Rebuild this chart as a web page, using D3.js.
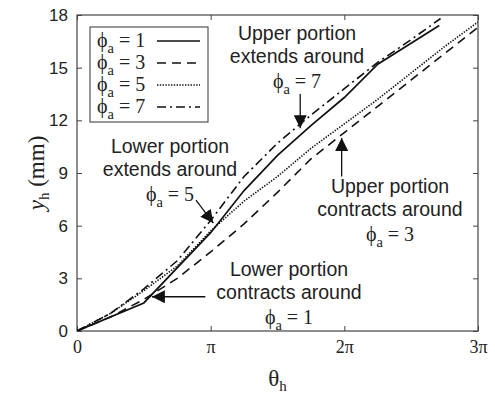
<!DOCTYPE html>
<html>
<head>
<meta charset="utf-8">
<script src="https://cdn.jsdelivr.net/npm/d3@7"></script>
<style>
  html, body { margin: 0; padding: 0; background: #fff; }
  svg { display: block; }
</style>
</head>
<body>
<svg id="chart" width="495" height="396"></svg>
<script>
// Winding height y_h against winding angle θ_h (in multiples of π) for four ϕ_a settings
const phiValues = [1, 3, 5, 7];

const theta1 = [0, 0.5, 1.0, 1.25, 1.5, 1.75, 2.0, 2.25, 2.71];
const yh1    = [0, 1.6, 5.6, 8.0, 10.0, 11.7, 13.3, 15.2, 17.4];

const theta3 = [0, 0.25, 0.5, 0.75, 1.0, 1.25, 1.5, 1.75, 2.0, 2.25, 2.5, 2.75, 3.0];
const yh3    = [0, 0.8, 1.8, 3.0, 4.5, 6.1, 7.9, 9.8, 11.3, 12.8, 14.3, 15.8, 17.3];

const theta5 = [0, 0.25, 0.5, 0.75, 1.0, 1.25, 1.5, 1.75, 2.0, 2.25, 2.5, 2.75, 3.0];
const yh5    = [0, 1.0, 2.3, 3.7, 5.7, 7.4, 8.8, 10.4, 11.8, 13.2, 14.7, 16.2, 17.6];

const theta7 = [0, 0.25, 0.5, 0.75, 1.0, 1.25, 1.5, 1.75, 2.0, 2.25, 2.5, 2.72];
const yh7    = [0, 1.0, 2.4, 4.0, 6.3, 8.8, 10.7, 12.3, 13.8, 15.3, 16.6, 17.8];

const xTickValues = [0, 1, 2, 3];
const xTickLabels = ["0", "π", "2π", "3π"];
const yTickValues = [0, 3, 6, 9, 12, 15, 18];

// annotation callouts: text lines, text anchor (x, first baseline) in data units, arrow tail/tip in data units
const noteLines = [
  ["Upper portion", "extends around"],
  ["Lower portion", "extends around"],
  ["Upper portion", "contracts around"],
  ["Lower portion", "contracts around"]
];
const notePhi = [7, 5, 3, 1];

const W = 495, H = 396;
const margin = { left: 77, right: 17, top: 15, bottom: 65 };
const svg = d3.select("#chart");

const x = d3.scaleLinear().domain([0, 3]).range([margin.left, W - margin.right]);
const y = d3.scaleLinear().domain([0, 18]).range([H - margin.bottom, margin.top]);

const serif = "'Liberation Serif', 'Times New Roman', serif";
const sans = "'Liberation Sans', Arial, sans-serif";
const axisColor = "#444";

// plot frame
svg.append("rect")
  .attr("x", x(0)).attr("y", y(18))
  .attr("width", x(3) - x(0)).attr("height", y(0) - y(18))
  .attr("fill", "none").attr("stroke", axisColor).attr("stroke-width", 1.2);

// axes with inward ticks on all four sides
const tickLen = 5;
const bottomAxis = d3.axisBottom(x).tickValues(xTickValues)
  .tickFormat((d, i) => xTickLabels[i]).tickSizeInner(-tickLen).tickSizeOuter(0).tickPadding(9);
const topAxis = d3.axisTop(x).tickValues(xTickValues).tickFormat("").tickSizeInner(-tickLen).tickSizeOuter(0);
const leftAxis = d3.axisLeft(y).tickValues(yTickValues).tickFormat(d3.format("d"))
  .tickSizeInner(-tickLen).tickSizeOuter(0).tickPadding(9);
const rightAxis = d3.axisRight(y).tickValues(yTickValues).tickFormat("").tickSizeInner(-tickLen).tickSizeOuter(0);

function styleAxis(g) {
  g.select(".domain").remove();
  g.selectAll(".tick line").attr("stroke", axisColor).attr("stroke-width", 1);
  g.selectAll(".tick text").attr("fill", "#222");
}

const gx = svg.append("g").attr("transform", `translate(0,${y(0)})`).call(bottomAxis).call(styleAxis);
gx.selectAll(".tick text").attr("font-family", serif).attr("font-size", 18);
gx.selectAll(".tick").filter(d => d === 3).select("text").attr("text-anchor", "middle");

svg.append("g").attr("transform", `translate(0,${y(18)})`).call(topAxis).call(styleAxis);

const gy = svg.append("g").attr("transform", `translate(${x(0)},0)`).call(leftAxis).call(styleAxis);
gy.selectAll(".tick text").attr("font-family", sans).attr("font-size", 17);

svg.append("g").attr("transform", `translate(${x(3)},0)`).call(rightAxis).call(styleAxis);

// axis titles
const xTitle = svg.append("text")
  .attr("x", (x(0) + x(3)) / 2).attr("y", 386)
  .attr("text-anchor", "middle").attr("font-family", serif).attr("font-size", 23).attr("fill", "#222");
xTitle.append("tspan").text("θ");
xTitle.append("tspan").attr("font-size", 15).attr("dy", 5).text("h");

const yTitle = svg.append("text")
  .attr("transform", `translate(44,${(y(0) + y(18)) / 2}) rotate(-90)`)
  .attr("text-anchor", "middle").attr("font-family", serif).attr("font-size", 23).attr("fill", "#222");
yTitle.append("tspan").attr("font-style", "italic").text("y");
yTitle.append("tspan").attr("font-size", 15).attr("dy", 5).text("h");
yTitle.append("tspan").attr("dy", -5).text(" (mm)");

// series
const series = [
  { phi: phiValues[0], t: theta1, v: yh1, dash: null, width: 1.7 },
  { phi: phiValues[1], t: theta3, v: yh3, dash: "9,6", width: 1.6 },
  { phi: phiValues[2], t: theta5, v: yh5, dash: "1.4,1.4", width: 1.6 },
  { phi: phiValues[3], t: theta7, v: yh7, dash: "9,4,2,4", width: 1.6 }
];

const line = d3.line().x(d => x(d[0])).y(d => y(d[1]));

svg.append("defs").append("clipPath").attr("id", "plotClip")
  .append("rect").attr("x", x(0)).attr("y", y(18)).attr("width", x(3) - x(0)).attr("height", y(0) - y(18));

svg.append("g").attr("clip-path", "url(#plotClip)")
  .selectAll("path").data(series).join("path")
  .attr("d", s => line(s.t.map((t, i) => [t, s.v[i]])))
  .attr("fill", "none").attr("stroke", "#111")
  .attr("stroke-width", s => s.width)
  .attr("stroke-dasharray", s => s.dash);

// ϕ_a = n label helper
function phiLabel(sel, n, size) {
  sel.attr("font-family", serif).attr("font-size", size).attr("fill", "#222");
  sel.append("tspan").text("ϕ");
  sel.append("tspan").attr("font-size", size * 0.72).attr("dy", size * 0.28).text("a");
  sel.append("tspan").attr("dy", -size * 0.28).text(" = " + n);
}

// legend
const legend = svg.append("g");
legend.append("rect").attr("x", 90).attr("y", 27).attr("width", 118).attr("height", 95)
  .attr("fill", "#fff").attr("stroke", axisColor).attr("stroke-width", 1.1);
series.forEach((s, i) => {
  const by = 47 + i * 22;
  phiLabel(legend.append("text").attr("x", 97).attr("y", by), s.phi, 20);
  legend.append("line").attr("x1", 157).attr("x2", 200).attr("y1", by - 6).attr("y2", by - 6)
    .attr("stroke", "#111").attr("stroke-width", s.width).attr("stroke-dasharray", s.dash);
});

// annotations
const noteText = [
  { cx: 297, y0: 40 },
  { cx: 170, y0: 153 },
  { cx: 390, y0: 193 },
  { cx: 289, y0: 276 }
];
const lineGap = 22.5;
noteLines.forEach((lines, i) => {
  const n = noteText[i];
  const t = svg.append("text").attr("text-anchor", "middle")
    .attr("font-family", sans).attr("font-size", 19.5).attr("fill", "#222");
  lines.forEach((l, j) => {
    t.append("tspan").attr("x", n.cx).attr("y", n.y0 + j * lineGap).text(l);
  });
  phiLabel(svg.append("text").attr("text-anchor", "middle")
    .attr("x", n.cx).attr("y", n.y0 + 2 * lineGap + 3), notePhi[i], 20);
});

// arrows: tail and tip positions in data coordinates (θ/π, mm)
const arrows = [
  { from: [1.67, 13.5], to: [1.67, 11.55] },
  { from: [0.89, 7.45], to: [1.02, 6.15] },
  { from: [1.98, 8.8], to: [1.98, 11.0] },
  { from: [0.96, 1.95], to: [0.56, 1.95] }
];
svg.append("defs").append("marker").attr("id", "head")
  .attr("viewBox", "0 0 10 10").attr("refX", 10).attr("refY", 5)
  .attr("markerWidth", 13).attr("markerHeight", 13).attr("markerUnits", "userSpaceOnUse")
  .attr("orient", "auto")
  .append("path").attr("d", "M0,0 L10,5 L0,10 Z").attr("fill", "#111");

svg.append("g").selectAll("line").data(arrows).join("line")
  .attr("x1", a => x(a.from[0])).attr("y1", a => y(a.from[1]))
  .attr("x2", a => x(a.to[0])).attr("y2", a => y(a.to[1]))
  .attr("stroke", "#111").attr("stroke-width", 1.3)
  .attr("marker-end", "url(#head)");
</script>
</body>
</html>
